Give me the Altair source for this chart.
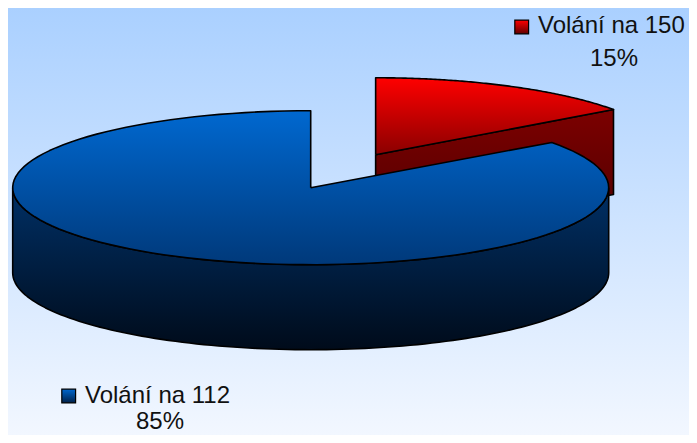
import altair as alt
import pandas as pd

# ---- data ----
categories = ["Volání na 150", "Volání na 112"]
values = [15, 85]
order_idx = [0, 1]

df = pd.DataFrame({"category": categories, "value": values, "k": order_idx})

# ---- geometry / style (not data) ----
W, H = 681, 427
CX, CY, RX, RY, DEPTH = 310.7, 187.7, 298.0, 77.0, 85.0
EXPLODE = 0.48
EXPLODED = "Volání na 150"
N = 120
FONT = "Liberation Sans"

xs = alt.Scale(domain=[8, 8 + W], nice=False, zero=False)
ys = alt.Scale(domain=[8, 8 + H], nice=False, zero=False, reverse=True)


def grad(c0, c1):
    return {"gradient": "linear", "x1": 0, "y1": 0, "x2": 0, "y2": 1,
            "stops": [{"offset": 0, "color": c0}, {"offset": 1, "color": c1}]}


base = (
    alt.Chart(df)
    .transform_joinaggregate(total="sum(value)")
    .transform_window(cum="sum(value)", sort=[alt.SortField("k")], frame=[None, 0])
    .transform_calculate(
        a0="2*PI*(datum.cum - datum.value)/datum.total",
        a1="2*PI*datum.cum/datum.total",
    )
    .transform_calculate(mid="(datum.a0 + datum.a1)/2")
    .transform_calculate(
        ox=f"datum.category == '{EXPLODED}' ? {EXPLODE * RX}*sin(datum.mid) : 0",
        oy=f"datum.category == '{EXPLODED}' ? {-EXPLODE * RY}*cos(datum.mid) : 0",
    )
    .transform_calculate(pct="round(100*datum.value/datum.total) + '%'")
)

enc = dict(
    x=alt.X("x:Q", scale=xs, axis=None),
    y=alt.Y("y:Q", scale=ys, axis=None),
    order=alt.Order("seq:Q"),
)

LINE = dict(stroke="#000000", strokeWidth=1.6, strokeJoin="round")


def top_face(cat, fill, rx=RX):
    rim = f"(datum.seq >= 1 && datum.seq <= {N + 1})"
    return (
        base.transform_filter(alt.datum.category == cat)
        .transform_calculate(seq=f"sequence(0, {N + 3})")
        .transform_flatten(["seq"])
        .transform_calculate(t=f"datum.a0 + (datum.a1 - datum.a0)*(datum.seq - 1)/{N}")
        .transform_calculate(
            x=f"{CX} + datum.ox + ({rim} ? {rx}*sin(datum.t) : 0)",
            y=f"{CY} + datum.oy - ({rim} ? {RY}*cos(datum.t) : 0)",
        )
        .mark_line(fill=fill, **LINE)
        .encode(**enc)
    )


def side_face(cat, fill):
    return (
        base.transform_filter(alt.datum.category == cat)
        .transform_calculate(
            s0="max(datum.a0, PI/2)",
            s1="min(datum.a1, 3*PI/2)",
        )
        .transform_filter("datum.s1 > datum.s0")
        .transform_calculate(seq=f"sequence(0, {2 * N + 3})")
        .transform_flatten(["seq"])
        .transform_calculate(
            t=(f"datum.seq <= {N} ? datum.s0 + (datum.s1 - datum.s0)*datum.seq/{N} : "
               f"(datum.seq <= {2 * N + 1} ? datum.s1 - (datum.s1 - datum.s0)*(datum.seq - {N + 1})/{N} : datum.s0)"),
            down=f"(datum.seq > {N} && datum.seq <= {2 * N + 1}) ? {DEPTH} : 0",
        )
        .transform_calculate(
            x=f"{CX} + datum.ox + {RX}*sin(datum.t)",
            y=f"{CY} + datum.oy - {RY}*cos(datum.t) + datum.down",
        )
        .mark_line(fill=fill, **LINE)
        .encode(**enc)
    )


def cut_face(cat, fill, rx=RX):
    rim = "(datum.seq == 1 || datum.seq == 2)"
    down = "(datum.seq == 2 || datum.seq == 3)"
    return (
        base.transform_filter(alt.datum.category == cat)
        .transform_calculate(seq="sequence(0, 5)")
        .transform_flatten(["seq"])
        .transform_calculate(
            x=f"{CX} + datum.ox + ({rim} ? {rx}*sin(datum.a1) : 0)",
            y=f"{CY} + datum.oy + ({rim} ? {-RY}*cos(datum.a1) : 0) + ({down} ? {DEPTH} : 0)",
        )
        .mark_line(fill=fill, **LINE)
        .encode(**enc)
    )


background = (
    alt.Chart(alt.Data(values=[{"bg": 1}]))
    .mark_rect(fill=grad("#aad0ff", "#f2f7ff"), strokeWidth=0)
    .encode(x=alt.value(0), x2=alt.value(W), y=alt.value(0), y2=alt.value(H))
)

RX_RED = 294.0
red_cut = cut_face("Volání na 150", grad("#7c0000", "#4a0000"), RX_RED)
red_top = top_face("Volání na 150", grad("#ff0000", "#8a0000"), RX_RED)
blue_side = side_face("Volání na 112", grad("#003066", "#000b1a"))
blue_top = top_face("Volání na 112", grad("#0068d0", "#00397a"))


def label(cat, sq_x, sq_y, sq_fill, tx, ty, px, py):
    d = base.transform_filter(alt.datum.category == cat)
    sq = d.mark_square(size=190, fill=sq_fill, stroke="#000000", strokeWidth=1.2, opacity=1).encode(
        x=alt.value(sq_x), y=alt.value(sq_y))
    name = d.mark_text(font=FONT, fontSize=24, align="left", baseline="alphabetic", color="#111111").encode(
        x=alt.value(tx), y=alt.value(ty), text="category:N")
    pct = d.mark_text(font=FONT, fontSize=24, align="center", baseline="alphabetic", color="#111111").encode(
        x=alt.value(px), y=alt.value(py), text="pct:N")
    return sq + name + pct


# label anchors in chart pixels (page minus the 8px margin)
red_label = label("Volání na 150", 513.7, 19, grad("#ff0000", "#600000"), 530, 24.5, 606, 58)
blue_label = label("Volání na 112", 60.7, 388, grad("#0068d0", "#002048"), 77, 394.7, 152, 421)

chart = (
    alt.layer(background, red_cut, red_top, blue_side, blue_top, red_label, blue_label)
    .properties(width=W, height=H, padding=0, autosize=alt.AutoSizeParams(type="none"))
    .configure_view(stroke=None)
)

chart.save("out.html", embed_options={"renderer": "svg", "actions": False})
